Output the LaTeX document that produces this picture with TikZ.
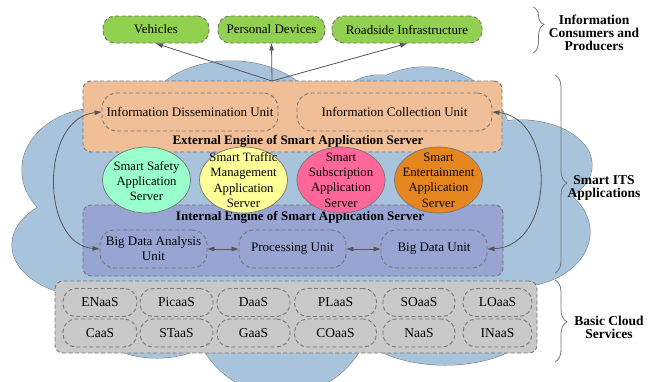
\documentclass[tikz,border=0pt]{standalone}
\usepackage{fontspec}
\setmainfont{Liberation Serif}
\usetikzlibrary{arrows.meta,shapes.geometric,decorations.pathreplacing}
\definecolor{cloudc}{RGB}{168,196,221}
\definecolor{orangec}{RGB}{241,191,151}
\definecolor{intc}{RGB}{152,164,210}
\definecolor{grayc}{RGB}{201,201,201}
\definecolor{greenc}{RGB}{146,208,80}
\definecolor{edgec}{RGB}{118,118,118}
\definecolor{arrc}{RGB}{85,85,85}
\definecolor{mintc}{RGB}{153,255,204}
\definecolor{yellowc}{RGB}{255,255,153}
\definecolor{pinkc}{RGB}{255,102,153}
\definecolor{ambc}{RGB}{230,134,30}
\tikzset{
  dashbox/.style={draw=edgec, line width=0.9pt, dash pattern=on 4pt off 2.5pt},
  bigbox/.style={dashbox, rounded corners=8pt, inner sep=0pt},
  unitbox/.style={dashbox, rounded corners=15pt, inner sep=0pt, minimum height=38pt, align=center, font=\fontsize{13}{15}\selectfont},
  pill/.style={dashbox, rounded corners=13pt, inner sep=0pt, minimum height=28pt, font=\fontsize{13.5}{15}\selectfont},
  greenbox/.style={dashbox, fill=greenc, rounded corners=12pt, inner sep=0pt, minimum height=27pt, font=\fontsize{13}{15}\selectfont},
  srv/.style={ellipse, draw=edgec, line width=0.7pt, inner sep=0pt, minimum width=88pt, minimum height=66pt},
  srvtext/.style={align=center, inner sep=0pt, font=\fontsize{12.7}{15.3}\selectfont},
  eng/.style={inner sep=0pt, font=\fontsize{13}{14}\selectfont\bfseries},
  side/.style={align=center, inner sep=0pt, font=\fontsize{13.5}{13.2}\selectfont\bfseries},
  arr/.style={draw=arrc, line width=0.8pt, -{Triangle[length=7pt,width=4.5pt]}},
  darr/.style={draw=arrc, line width=0.8pt, {Triangle[length=7pt,width=4.5pt]}-{Triangle[length=7pt,width=4.5pt]}},
  brc/.style={draw=edgec, line width=0.8pt, decorate}
}
\begin{document}
\begin{tikzpicture}[x=1pt,y=-1pt]
\useasboundingbox (0,0) rectangle (652,381);
% cloud
\def\cloudlist{231/128/92/67, 425/150/88/83, 380/140/60/65, 520/165/72/45, 515/232/75/55, 100/170/78/62, 95/245/83/52, 157/320/65/38, 282/300/92/95, 445/320/90/45, 300/210/240/110}
\foreach \cx/\cy/\rx/\ry in \cloudlist
  \draw[edgec, line width=1pt] (\cx,\cy) ellipse [x radius=\rx pt, y radius=\ry pt];
\foreach \cx/\cy/\rx/\ry in \cloudlist
  \fill[cloudc] (\cx,\cy) ellipse [x radius=\rx pt, y radius=\ry pt];
% green boxes
\node[greenbox, minimum width=106pt] (veh) at (156,29.5) {Vehicles};
\node[greenbox, minimum width=107pt] (pd) at (271.5,29.5) {Personal Devices};
\node[greenbox, minimum width=150pt] (rs) at (407,29.5) {Roadside Infrastructure};
% external engine
\node[bigbox, fill=orangec, minimum width=419pt, minimum height=71pt] (ext) at (292.5,116.5) {};
\node[unitbox, minimum width=176pt] (idu) at (190,112) {Information Dissemination Unit};
\node[unitbox, minimum width=195pt] (icu) at (394.5,112) {Information Collection Unit};
\node[eng] (extl) at (298,141) {External Engine of Smart Application Server};
% internal engine
\node[bigbox, fill=intc, minimum width=420pt, minimum height=71pt] (int) at (293,240.5) {};
\node[eng] (intl) at (300,217) {Internal Engine of Smart Application Server};
\node[unitbox, minimum width=107pt] (bda) at (153.5,249) {Big Data Analysis\\Unit};
\node[unitbox, minimum width=107pt] (pu) at (292.5,249) {Processing Unit};
\node[unitbox, minimum width=106pt] (bdu) at (434,249) {Big Data Unit};
% servers
\node[srv, fill=mintc] (s1) at (146.5,180) {};
\node[srv, fill=yellowc] (s2) at (243.5,180) {};
\node[srv, fill=pinkc] (s3) at (341,180) {};
\node[srv, fill=ambc] (s4) at (438.5,180) {};
\node[srvtext] (t1) at (146.5,181) {Smart Safety\\Application\\Server};
\node[srvtext] (t2) at (243.5,180) {Smart Traffic\\Management\\Application\\Server};
\node[srvtext] (t3) at (341,180) {Smart\\Subscription\\Application\\Server};
\node[srvtext] (t4) at (438.5,180) {Smart\\Entertainment\\Application\\Server};
% basic cloud services
\node[bigbox, fill=grayc, minimum width=482pt, minimum height=72pt] (gb) at (296,317) {};
\node[pill, minimum width=74pt] (p1) at (100,302.5) {ENaaS};
\node[pill, minimum width=73pt] (p2) at (176.5,302.5) {PicaaS};
\node[pill, minimum width=73pt] (p3) at (253.5,302.5) {DaaS};
\node[pill, minimum width=82pt] (p4) at (335.5,302.5) {PLaaS};
\node[pill, minimum width=72pt] (p5) at (419,302.5) {SOaaS};
\node[pill, minimum width=69pt] (p6) at (497.5,302.5) {LOaaS};
\node[pill, minimum width=74pt] (q1) at (100,333) {CaaS};
\node[pill, minimum width=73pt] (q2) at (176.5,333) {STaaS};
\node[pill, minimum width=73pt] (q3) at (253.5,333) {GaaS};
\node[pill, minimum width=82pt] (q4) at (335.5,333) {COaaS};
\node[pill, minimum width=72pt] (q5) at (419,333) {NaaS};
\node[pill, minimum width=69pt] (q6) at (497.5,333) {INaaS};
% arrows
\coordinate (hub) at (272,81);
\draw[arr] (hub) -- (veh.south);
\draw[arr] (hub) -- (pd.south);
\draw[arr] (hub) -- (rs.south);
\draw[darr] (bda.east) -- (pu.west);
\draw[darr] (pu.east) -- (bdu.west);
\draw[darr] (idu.west) .. controls (40,118) and (40,244) .. (bda.west);
\draw[darr] (icu.east) .. controls (556,118) and (556,246) .. (bdu.east);
% braces
\coordinate (b1a) at (533,7); \coordinate (b1b) at (533,53);
\coordinate (b2a) at (555,75); \coordinate (b2b) at (555,273);
\coordinate (b3a) at (555,280); \coordinate (b3b) at (555,362);
\draw[brc, decoration={brace, amplitude=11pt, aspect=0.38}] (b1a) -- (b1b);
\draw[brc, decoration={brace, amplitude=12pt, aspect=0.545}] (b2a) -- (b2b);
\draw[brc, decoration={brace, amplitude=12pt, aspect=0.51}] (b3a) -- (b3b);
\node[side] (l1) at (594,33) {Information\\Consumers and\\Producers};
\node[side] (l2) at (604,188) {Smart ITS\\Applications};
\node[side] (l3) at (609,327) {Basic Cloud\\Services};
\end{tikzpicture}
\end{document}
